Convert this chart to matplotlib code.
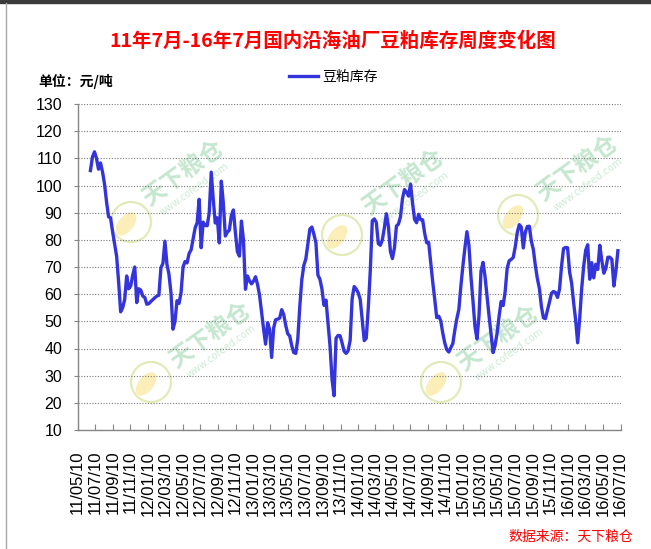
import matplotlib
matplotlib.use("Agg")
import matplotlib.pyplot as plt
import matplotlib.patches as patches
from matplotlib.lines import Line2D
import pandas as pd

plt.rcParams['font.family'] = ['Noto Sans CJK SC', 'DejaVu Sans']

# weekly soybean meal stocks at coastal crushers
first_week = "2011-06-24"
stocks = [
    105.5, 110.5, 112.4, 110, 106, 108.3, 105, 100.5, 94, 88.5,
    88.1, 83, 78.5, 74, 64.5, 53.5, 55, 58, 66.7, 62,
    63, 67, 70, 56.9, 62, 61.5, 59.3, 58.8, 56.3, 56.5,
    57.3, 58, 58.7, 59.3, 59.6, 69.7, 71.3, 79.5, 71, 67.3,
    60.5, 47.1, 50, 57.6, 56.6, 60.5, 70, 72, 71.5, 75,
    76.3, 80.3, 84.4, 86.3, 94.9, 77.1, 86.5, 85.3, 85.2, 90,
    104.9, 94.9, 86.2, 88.1, 78.9, 101.6, 93.6, 81.4, 82.8, 83.6,
    89, 91, 82.6, 75.6, 74, 86.9, 80, 61.8, 66.7, 64.9,
    63.8, 64.8, 66.4, 63.6, 59.6, 53.4, 47.2, 41.6, 49.5, 47,
    36.7, 47.5, 50.6, 50.8, 51.2, 54.3, 52.5, 48.5, 45.4, 44.6,
    41, 38.5, 38.2, 43.6, 55.6, 65.4, 70.6, 73, 78.5, 84,
    84.7, 82, 78.9, 67, 65.5, 61.8, 55.9, 57.8, 49.2, 41,
    28.7, 22.6, 43.8, 44.8, 44.7, 42, 39, 38.2, 39.2, 43,
    58.5, 62.8, 61.9, 60.5, 58.1, 50.3, 42.9, 43.8, 54.8, 68.6,
    87, 87.7, 86.4, 78.6, 78, 80, 84.5, 89.6, 84.9, 75.7,
    73.1, 77, 85.1, 85.8, 88.5, 95.2, 98.5, 97.6, 96.1, 100.5,
    93.5, 87.5, 86.3, 89.4, 87.4, 87.4, 82.5, 78.9, 79, 71.9,
    64.6, 58.2, 51.4, 51.9, 50.2, 45.7, 42, 39.6, 38.7, 40.3,
    41.8, 46.8, 51, 54.4, 63, 70.4, 77, 83, 78, 66.5,
    57.6, 48, 43.5, 52, 68.5, 71.7, 66.5, 59.3, 52, 45.4,
    38.5, 41.2, 45.7, 52, 57.3, 55.8, 61, 69.6, 72.3, 72.8,
    73.5, 77.4, 82.6, 85.6, 84.7, 77, 82.8, 84.9, 85, 79.5,
    76.4, 70.5, 65.7, 62.1, 55.4, 51.3, 51, 54, 57.1, 60.3,
    61, 60.6, 58.8, 61.8, 70.3, 76.8, 77.2, 77.1, 68.2, 64.1,
    56.9, 50.5, 42.1, 50.8, 62, 70.3, 76.2, 78.2, 65.5, 71.6,
    66, 71, 69.1, 78, 72.4, 67.7, 69.5, 73.6, 73.6, 72.8,
    63, 68.5, 76,
]

tick_labels = [
    "11/05/10", "11/07/10", "11/09/10", "11/11/10", "12/01/10", "12/03/10",
    "12/05/10", "12/07/10", "12/09/10", "12/11/10", "13/01/10", "13/03/10",
    "13/05/10", "13/07/10", "13/09/10", "13/11/10", "14/01/10", "14/03/10",
    "14/05/10", "14/07/10", "14/09/10", "14/11/10", "15/01/10", "15/03/10",
    "15/05/10", "15/07/10", "15/09/10", "15/11/10", "16/01/10", "16/03/10",
    "16/05/10", "16/07/10",
]
y_ticks = [10, 20, 30, 40, 50, 60, 70, 80, 90, 100, 110, 120, 130]

title = "11年7月-16年7月国内沿海油厂豆粕库存周度变化图"
series_name = "豆粕库存"
unit_text = "单位：元/吨"
source_text = "数据来源：天下粮仓"

W, H = 651, 549
fx = lambda x: x / W
fy = lambda y: 1 - y / H

weeks = pd.date_range(first_week, periods=len(stocks), freq="7D")
tick_dates = pd.to_datetime(tick_labels, format="%y/%m/%d")

fig = plt.figure(figsize=(W / 100, H / 100), dpi=100)
ax = fig.add_axes([fx(77.5), fy(430), (620.5 - 77.5) / W, (430 - 104) / H])
ax.patch.set_facecolor("white")

# faint watermarks of the data provider
marks = [
    ((183, 173), (194, 189), (131, 222)),
    ((210, 335), (221, 351), (151, 382)),
    ((403, 182), (414, 198), (342, 235)),
    ((498, 338), (509, 354), (441, 382)),
    ((577, 168), (588, 184), (518, 215)),
]
for (tx, ty), (ux, uy), (cx, cy) in marks:
    ax.text(fx(tx), fy(ty), "天下粮仓", transform=fig.transFigure, rotation=36,
            ha="center", va="center", fontsize=17, weight="bold",
            color="#c6e7cf", zorder=1, clip_on=False)
    ax.text(fx(ux), fy(uy), "www.cofeed.com", transform=fig.transFigure,
            rotation=36, ha="center", va="center", fontsize=7,
            color="#cdeAd5", zorder=1, clip_on=False, family="DejaVu Sans")
    ax.add_patch(patches.Ellipse((fx(cx), fy(cy)), 40 / W, 40 / H,
                                 transform=fig.transFigure, fill=False,
                                 edgecolor="#e2ebb8", lw=1.6, zorder=1,
                                 clip_on=False))
    ax.add_patch(patches.Ellipse((fx(cx - 5), fy(cy + 2)), 16 / W, 26 / H,
                                 angle=-30, transform=fig.transFigure,
                                 facecolor="#fbeeb8", edgecolor="none",
                                 zorder=1, clip_on=False))

ax.plot(weeks, stocks, color="#3434dc", lw=2.4, zorder=3,
        solid_joinstyle="round", label=series_name)

ax.set_xlim(tick_dates[0], tick_dates[-1])
ax.set_ylim(10, 130)
ax.set_yticks(y_ticks)
ax.set_yticklabels([str(v) for v in y_ticks], family="Liberation Sans", fontsize=11.5)
ax.set_xticks(tick_dates)
ax.set_xticklabels(tick_labels, rotation=90, family="Liberation Sans",
                   fontsize=12, va="top", ha="center")

ax.tick_params(axis="y", direction="out", length=3, color="#868686", pad=8)
ax.tick_params(axis="x", direction="in", length=4, color="#868686", pad=15)

ax.grid(axis="y", linestyle=(0, (1, 1.5)), color="#7a7a7a", lw=0.8, zorder=0)
for side in ("top", "right"):
    ax.spines[side].set_visible(False)
for side in ("left", "bottom"):
    ax.spines[side].set_color("#868686")
    ax.spines[side].set_linewidth(1)

ax.legend(loc="center", bbox_to_anchor=(fx(333), fy(77)),
          bbox_transform=fig.transFigure, frameon=False, fontsize=10,
          handlelength=2.1, handletextpad=0.3, borderpad=0)

fig.text(fx(333), fy(41), title, ha="center", va="center", color="#ff0000",
         fontsize=14, weight="bold")
fig.text(fx(38), fy(81), unit_text, ha="left", va="center", fontsize=10,
         weight="bold")
fig.text(fx(633), fy(537), source_text, ha="right", va="center",
         color="#ff0000", fontsize=10, style="italic")

# screenshot frame
fig.add_artist(patches.Rectangle((0, fy(3)), 1, 3 / H, transform=fig.transFigure,
                                 color="#3a3a3a"))
fig.add_artist(Line2D([fx(5.5), fx(5.5)], [0, fy(3)], transform=fig.transFigure,
                      color="#a8a8a8", lw=1))

fig.savefig("out.png", dpi=100)
plt.close(fig)
